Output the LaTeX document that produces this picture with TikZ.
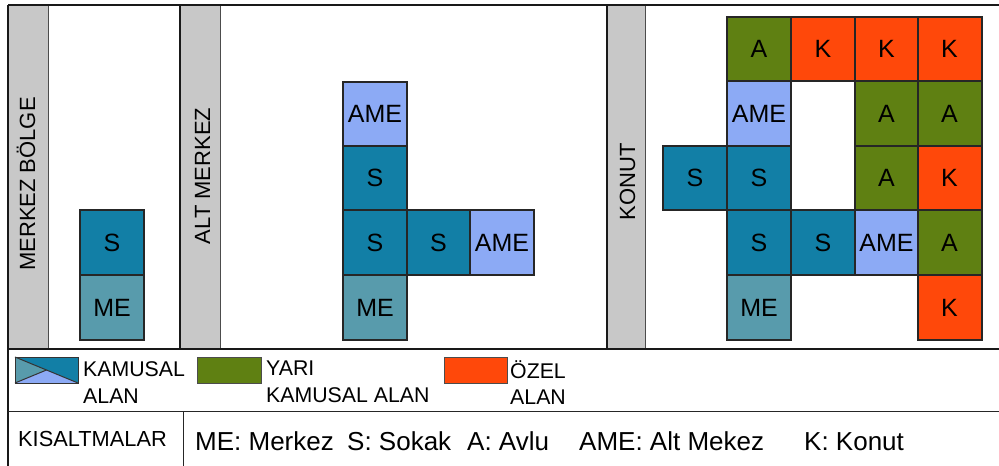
\documentclass[tikz,border=0pt]{standalone}
\usepackage{fontspec}
\setmainfont{Liberation Sans}
\definecolor{cS}{RGB}{18,127,166}
\definecolor{cME}{RGB}{88,155,172}
\definecolor{cAME}{RGB}{140,170,245}
\definecolor{cA}{RGB}{95,128,18}
\definecolor{cK}{RGB}{255,72,10}
\definecolor{cG}{RGB}{200,200,200}
\begin{document}
\begin{tikzpicture}[x=1pt,y=-1pt,
  cell/.style={draw=black!85,line width=2pt,minimum width=64pt,minimum height=64.5pt,
    inner sep=0pt,outer sep=0pt,font=\fontsize{25}{25}\selectfont},
  sbox/.style={cell,fill=cS},
  mebox/.style={cell,fill=cME},
  amebox/.style={cell,fill=cAME},
  abox/.style={cell,fill=cA},
  kbox/.style={cell,fill=cK},
  vlabel/.style={rotate=90,anchor=base,inner sep=0pt,font=\fontsize{22}{22}\selectfont},
  leg/.style={anchor=base west,inner sep=0pt,font=\fontsize{21.3}{21.3}\selectfont},
  abbr/.style={anchor=base west,inner sep=0pt,font=\fontsize{26}{26}\selectfont},
  frameline/.style={line width=2.2pt,black!90},
  thinline/.style={line width=1pt,black!85},
  strip/.style={fill=cG}]
\useasboundingbox (0,0) rectangle (999,466);
\fill[white] (0,0) rectangle (999,466);
% gray strips
\fill[strip] (8,5) rectangle (48,349);
\fill[strip] (180,5) rectangle (220,349);
\fill[strip] (607,5) rectangle (645,349);
\draw[line width=0.8pt,black!70] (48,5) -- (48,349);
\draw[line width=0.8pt,black!70] (220,5) -- (220,349);
\draw[line width=0.8pt,black!70] (645,5) -- (645,349);
% frame
\draw[frameline] (8,5) -- (999,5);
\draw[frameline] (8,5) -- (8,466);
\draw[frameline] (180,5) -- (180,349);
\draw[frameline] (607,5) -- (607,349);
\draw[frameline] (8,349) -- (999,349);
\draw[thinline] (8,411) -- (999,411);
\draw[thinline] (183,411) -- (183,466);
% vertical labels
\node[vlabel] (l1) at (35,184) {MERKEZ BÖLGE};
\node[vlabel] (l2) at (210,176) {ALT MERKEZ};
\node[vlabel] (l3) at (635,182) {KONUT};
% panel 1
\node[sbox] (p1s) at (112,242.5) {S};
\node[mebox] (p1me) at (112,307.5) {ME};
% panel 2
\node[amebox] (p2ame) at (375,114) {AME};
\node[sbox] (p2s1) at (375,178) {S};
\node[sbox] (p2s2) at (375,242.5) {S};
\node[sbox] (p2s3) at (438.5,242.5) {S};
\node[amebox] (p2ame2) at (502,242.5) {AME};
\node[mebox] (p2me) at (375,307.5) {ME};
% panel 3
\node[abox] (a00) at (759,49) {A};
\node[kbox] (k01) at (823,49) {K};
\node[kbox] (k02) at (886.5,49) {K};
\node[kbox] (k03) at (949.5,49) {K};
\node[amebox] (m10) at (759,113.5) {AME};
\node[abox] (a12) at (886.5,113.5) {A};
\node[abox] (a13) at (949.5,113.5) {A};
\node[sbox] (s2a) at (695,178) {S};
\node[sbox] (s20) at (759,178) {S};
\node[abox] (a22) at (886.5,178) {A};
\node[kbox] (k23) at (949.5,178) {K};
\node[sbox] (s30) at (759,242.5) {S};
\node[sbox] (s31) at (823,242.5) {S};
\node[amebox] (m32) at (886.5,242.5) {AME};
\node[abox] (a33) at (949.5,242.5) {A};
\node[mebox] (me40) at (759,307.5) {ME};
\node[kbox] (k43) at (949.5,307.5) {K};
% legend swatches
\fill[cS] (15,357) -- (78,357) -- (78,383) -- cycle;
\fill[cME] (15,357) -- (46.5,370) -- (15,383) -- cycle;
\fill[cAME] (15,383) -- (46.5,370) -- (78,383) -- cycle;
\draw[line width=1pt,black!80] (15,357) rectangle (78,383);
\draw[line width=1pt,black!80] (15,357) -- (78,383);
\draw[line width=1pt,black!80] (15,383) -- (46.5,370);
\filldraw[fill=cA,draw=black!70,line width=1pt] (197,357) rectangle (261,383);
\filldraw[fill=cK,draw=black!70,line width=1pt] (444,357) rectangle (507,383);
% legend texts
\node[leg] (t1a) at (83,376.5) {KAMUSAL};
\node[leg] (t1b) at (83,403.3) {ALAN};
\node[leg] (t2a) at (266,375.7) {YARI};
\node[leg] (t2b) at (266,402.7) {KAMUSAL ALAN};
\node[leg] (t3a) at (510,378.3) {ÖZEL};
\node[leg] (t3b) at (510,404) {ALAN};
% abbreviations
\node[anchor=base west,inner sep=0pt,font=\fontsize{21.8}{21.8}\selectfont] (kis) at (18,446.5) {KISALTMALAR};
\node[abbr] (ab1) at (195,450) {ME: Merkez};
\node[abbr] (ab2) at (347,450) {S: Sokak};
\node[abbr] (ab3) at (467,450) {A: Avlu};
\node[abbr] (ab4) at (579,450) {AME: Alt Mekez};
\node[abbr] (ab5) at (804,450) {K: Konut};
\end{tikzpicture}
\end{document}
